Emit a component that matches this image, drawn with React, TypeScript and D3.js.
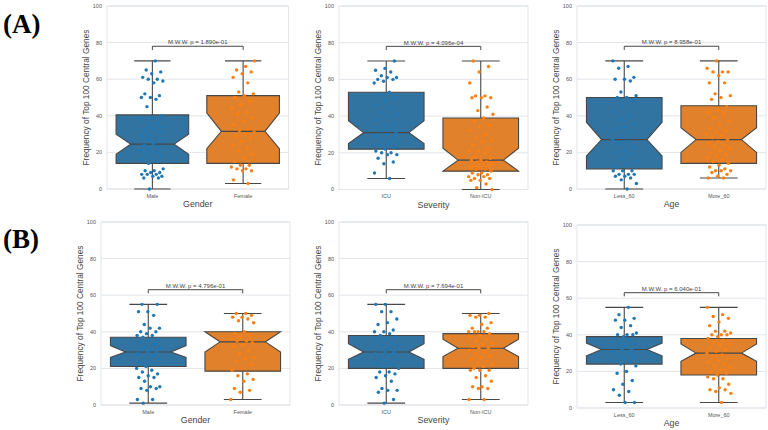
import * as d3 from 'd3';
import React from 'react';

// ---- data ----
const groupLabels = [
  ['Male', 'Female'],
  ['ICU', 'Non-ICU'],
  ['Less_60', 'More_60'],
  ['Male', 'Female'],
  ['ICU', 'Non-ICU'],
  ['Less_60', 'More_60'],
];
const axisTitles = ['Gender', 'Severity', 'Age', 'Gender', 'Severity', 'Age'];
const pValues = ['1.890e-01', '4.096e-04', '8.958e-01', '4.796e-01', '7.694e-01', '6.040e-01'];
const yTicks = [0, 20, 40, 60, 80, 100];

// box stats: [whisker low, q1, notch low, median, notch high, q3, whisker high]
const boxA1 = [
  [0, 14, 19, 24.5, 30, 40.5, 70],
  [3, 14, 22, 31.5, 41.5, 51, 70],
];
const boxA2 = [
  [6, 22, 25, 31, 37.5, 53, 70],
  [0, 10, 10, 16, 22.5, 39, 70],
];
const boxA3 = [
  [0, 11, 18, 27, 36.5, 50, 70],
  [6, 14, 20, 27, 33.5, 45.5, 70],
];
const boxB1 = [
  [1, 21, 26, 29, 32.5, 37, 55],
  [3, 18.5, 29, 34.5, 40, 40, 50],
];
const boxB2 = [
  [1, 20, 25, 29, 33.5, 38, 55],
  [3, 20, 26.5, 31, 36, 39, 50],
];
const boxB3 = [
  [3, 24, 28.5, 32, 35.5, 39, 55],
  [3, 18, 25.5, 30, 35, 38, 55],
];

const pointsA1 = [
  [70, 65, 64, 63, 61, 60, 60, 59, 58, 52, 51, 50, 50, 49, 45, 40, 39, 38, 36, 35, 34, 33, 32, 31, 30, 29, 28, 27, 26, 25, 24, 23, 22, 21, 20, 19, 18, 17, 16, 15, 14, 11, 10, 10, 9, 9, 8, 8, 8, 7, 7, 6, 6, 0],
  [70, 67, 65, 64, 63, 61, 58, 53, 52, 51, 50, 48, 46, 44, 42, 41, 39, 37, 35, 33, 32, 31, 30, 29, 28, 26, 24, 22, 21, 19, 17, 15, 13, 13, 12, 11, 11, 10, 10, 5, 3],
];
const pointsA2 = [
  [70, 66, 65, 64, 62, 61, 61, 60, 60, 59, 58, 53, 52, 50, 48, 46, 44, 42, 41, 40, 38, 36, 35, 34, 33, 32, 31, 30, 29, 28, 27, 26, 25, 24, 23, 22, 21, 20, 20, 19, 19, 17, 15, 14, 9, 6],
  [70, 67, 64, 58, 51, 51, 50, 50, 50, 45, 43, 41, 39, 37, 35, 34, 32, 30, 28, 27, 26, 24, 22, 21, 21, 20, 18, 17, 16, 16, 15, 15, 14, 14, 13, 13, 12, 12, 11, 11, 10, 9, 9, 8, 8, 7, 7, 6, 6, 5, 5, 3, 1, 0],
];
const pointsA3 = [
  [70, 67, 66, 61, 60, 60, 59, 53, 51, 50, 50, 48, 45, 42, 40, 38, 36, 34, 33, 31, 29, 27, 26, 25, 23, 21, 20, 19, 17, 15, 13, 12, 10, 10, 10, 8, 8, 8, 7, 7, 6, 5, 3, 0],
  [70, 66, 64, 64, 64, 62, 58, 58, 52, 51, 50, 49, 45, 43, 42, 41, 39, 37, 35, 33, 32, 31, 30, 29, 28, 27, 26, 25, 24, 23, 22, 21, 20, 19, 18, 17, 16, 15, 14, 13, 12, 11, 10, 10, 10, 9, 8, 7, 6, 6],
];
const pointsB1 = [
  [55, 55, 51, 51, 49, 44, 42, 42, 40, 40, 39, 38, 38, 37, 36, 35, 34, 33, 32, 31, 30, 30, 29, 29, 28, 27, 26, 25, 24, 23, 22, 21, 20, 19, 18, 17, 16, 15, 15, 13, 10, 10, 9, 9, 8, 3, 3, 1],
  [50, 50, 49, 48, 48, 47, 46, 45, 40, 39, 38, 37, 36, 35, 35, 34, 33, 32, 30, 28, 26, 25, 24, 22, 20, 19, 17, 16, 14, 13, 9, 8, 7, 3],
];
const pointsB2 = [
  [55, 55, 51, 51, 47, 45, 44, 41, 40, 40, 39, 38, 37, 36, 35, 34, 33, 32, 31, 30, 29, 29, 28, 27, 26, 25, 24, 23, 22, 21, 20, 18, 18, 17, 16, 15, 13, 9, 8, 8, 7, 3, 1],
  [50, 49, 49, 48, 48, 45, 44, 42, 42, 40, 40, 40, 40, 39, 38, 37, 36, 35, 34, 33, 32, 31, 31, 30, 29, 28, 27, 26, 25, 24, 23, 22, 21, 20, 19, 19, 19, 16, 15, 13, 10, 10, 9, 9, 3, 3],
];
const pointsB3 = [
  [55, 51, 49, 48, 48, 45, 44, 41, 40, 40, 40, 39, 38, 37, 36, 35, 34, 33, 32, 32, 31, 30, 29, 28, 27, 26, 25, 24, 23, 20, 19, 15, 13, 10, 9, 7, 3, 3],
  [55, 51, 50, 49, 47, 45, 42, 42, 41, 40, 40, 40, 39, 38, 37, 36, 35, 34, 33, 32, 31, 30, 29, 28, 27, 26, 25, 24, 23, 22, 21, 20, 19, 18, 17, 16, 16, 13, 11, 10, 10, 9, 8, 3],
];

const allBoxes = [boxA1, boxA2, boxA3, boxB1, boxB2, boxB3];
const allPoints = [pointsA1, pointsA2, pointsA3, pointsB1, pointsB2, pointsB3];

// ---- layout ----
const frames = [
  { x0: 107, x1: 288.5, y0: 6, y1: 189 },
  { x0: 339, x1: 528, y0: 6, y1: 189.5 },
  { x0: 577, x1: 766, y0: 6, y1: 189 },
  { x0: 101, x1: 290, y0: 222, y1: 405 },
  { x0: 339, x1: 528, y0: 222, y1: 405 },
  { x0: 577, x1: 766, y0: 225, y1: 408 },
];

const boxFill = ['#3274a1', '#e1812c'];
const dotFill = ['#1f77b4', '#ff7f0e'];
const edge = '#474747';
const gridColor = '#e2e5ea';
const font = "'Liberation Sans', Arial, sans-serif";

const Panel = ({ idx }: { idx: number }) => {
  const f = frames[idx];
  const cats = groupLabels[idx];
  const x = d3.scaleBand().domain(cats).range([f.x0, f.x1]);
  const y = d3.scaleLinear().domain([0, 100]).range([f.y1, f.y0]);
  const bw = x.bandwidth();
  const w = bw * 0.8;
  const line = d3.line();

  const maxWhisk = d3.max(allBoxes[idx], (b) => b[6]) as number;
  const c1 = x(cats[0])! + bw / 2;
  const c2 = x(cats[1])! + bw / 2;

  return (
    <g>
      {yTicks.map((t) => (
        <g key={t}>
          <line x1={f.x0} x2={f.x1} y1={y(t)} y2={y(t)} stroke={gridColor} strokeWidth={1} />
          <text x={f.x0 - 5} y={y(t)} dy="0.35em" textAnchor="end" fontSize={5.5} fill="#555">
            {t}
          </text>
        </g>
      ))}
      <rect x={f.x0} y={f.y0} width={f.x1 - f.x0} height={f.y1 - f.y0} fill="none" stroke={gridColor} strokeWidth={1} />

      {allBoxes[idx].map((b, k) => {
        const [wlo, q1, nlo, med, nhi, q3, whi] = b;
        const cx = x(cats[k])! + bw / 2;
        const l = cx - w / 2;
        const r = cx + w / 2;
        const ins = w * 0.2;
        const pts: [number, number][] = [
          [l, y(q1)], [l, y(nlo)], [l + ins, y(med)], [l, y(nhi)], [l, y(q3)],
          [r, y(q3)], [r, y(nhi)], [r - ins, y(med)], [r, y(nlo)], [r, y(q1)],
        ];
        return (
          <g key={k}>
            <line x1={cx} x2={cx} y1={y(q1)} y2={y(wlo)} stroke={edge} strokeWidth={1.1} />
            <line x1={cx} x2={cx} y1={y(q3)} y2={y(whi)} stroke={edge} strokeWidth={1.1} />
            <line x1={cx - w / 4} x2={cx + w / 4} y1={y(wlo)} y2={y(wlo)} stroke={edge} strokeWidth={1.1} />
            <line x1={cx - w / 4} x2={cx + w / 4} y1={y(whi)} y2={y(whi)} stroke={edge} strokeWidth={1.1} />
            <path d={line(pts) + 'Z'} fill={boxFill[k]} stroke={edge} strokeWidth={1.1} />
            <line x1={l + ins} x2={r - ins} y1={y(med)} y2={y(med)} stroke={edge} strokeWidth={1.1} />
          </g>
        );
      })}

      {allPoints[idx].map((vals, k) => {
        const cx = x(cats[k])! + bw / 2;
        return (
          <g key={'p' + k}>
            {vals.map((v, i) => {
              // fixed jitter offset so dots do not overlap on the category line
              const j = (((i + 1) * 0.618034 + k * 0.37 + idx * 0.21) % 1) * 2 - 1;
              return <circle key={i} cx={cx + j * bw * 0.13} cy={y(v)} r={1.7} fill={dotFill[k]} />;
            })}
          </g>
        );
      })}

      <path
        d={`M${c1},${y(maxWhisk + 6)}V${y(maxWhisk + 8)}H${c2}V${y(maxWhisk + 6)}`}
        fill="none"
        stroke={edge}
        strokeWidth={1}
      />
      <text x={(c1 + c2) / 2} y={y(maxWhisk + 9)} textAnchor="middle" fontSize={6} fill="#444">
        {`M.W.W. p = ${pValues[idx]}`}
      </text>

      {cats.map((c) => (
        <text key={c} x={x(c)! + bw / 2} y={f.y1 + 7} dy="0.35em" textAnchor="middle" fontSize={5.5} fill="#555">
          {c}
        </text>
      ))}
      <text x={(f.x0 + f.x1) / 2} y={f.y1 + 15} dy="0.35em" textAnchor="middle" fontSize={8.8} fill="#444">
        {axisTitles[idx]}
      </text>
      <text
        transform={`translate(${f.x0 - 21},${(f.y0 + f.y1) / 2}) rotate(-90)`}
        textAnchor="middle"
        dy="0.35em"
        fontSize={8.3}
        fill="#444"
      >
        Frequency of Top 100 Central Genes
      </text>
    </g>
  );
};

export default function App() {
  return (
    <div style={{ position: 'absolute', left: 0, top: 0 }}>
      <svg width={768} height={430} fontFamily={font} style={{ display: 'block', background: '#fff' }}>
        <rect width={768} height={430} fill="#fff" />
        <text x={3} y={33} fontFamily="'Liberation Serif', 'Times New Roman', serif" fontWeight="bold" fontSize={27}>
          (A)
        </text>
        <text x={3} y={248} fontFamily="'Liberation Serif', 'Times New Roman', serif" fontWeight="bold" fontSize={27}>
          (B)
        </text>
        {frames.map((_, i) => (
          <Panel key={i} idx={i} />
        ))}
      </svg>
    </div>
  );
}
